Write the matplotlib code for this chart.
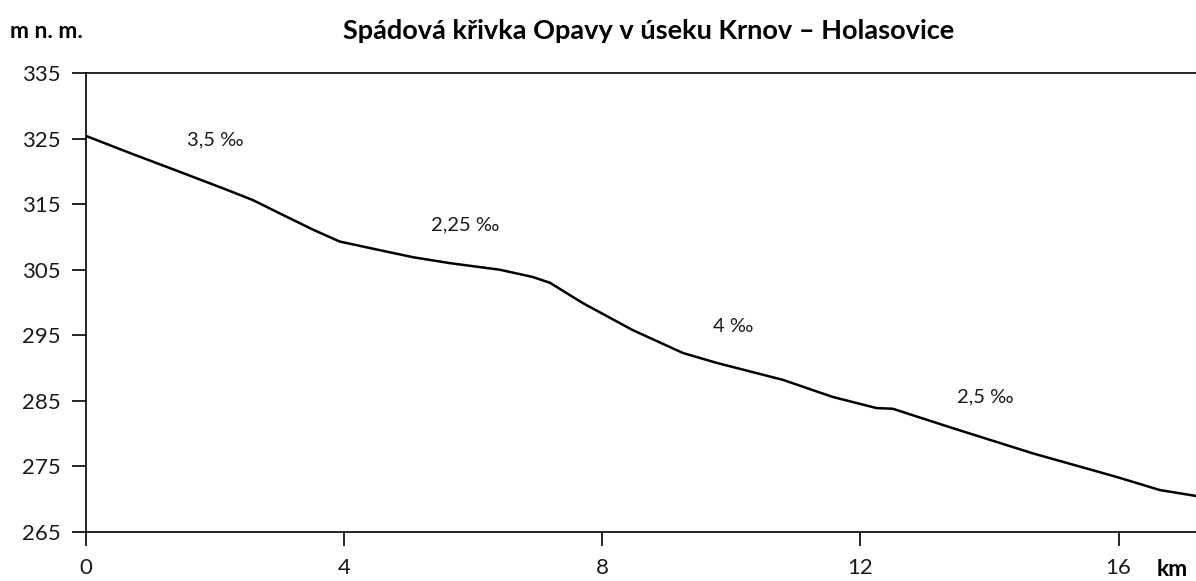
import matplotlib.pyplot as plt

plt.rcParams['font.family'] = ['Lato', 'DejaVu Sans']

# distance from Krnov (km) and elevation (m n. m.)
km = [0, 0.68, 1.46, 2.23, 2.59, 3.0, 3.52, 3.93, 4.4, 5.07, 5.64, 6.41,
      6.92, 7.19, 7.7, 8.47, 9.25, 9.77, 10.8, 11.57, 12.25, 12.5,
      13.38, 14.67, 15.97, 16.64, 17.2]
elev = [325.4, 322.8, 319.9, 317.0, 315.6, 313.6, 311.1, 309.3, 308.3, 306.9,
        306.0, 305.0, 303.9, 303.0, 299.9, 295.8, 292.3, 290.8, 288.2, 285.6,
        283.9, 283.8, 281.0, 277.0, 273.4, 271.4, 270.5]

slope_labels = ['3,5 ‰', '2,25 ‰', '4 ‰', '2,5 ‰']
slope_km = [2.0, 5.87, 10.02, 13.93]
slope_elev = [324.8, 311.8, 296.3, 285.6]

fig = plt.figure(figsize=(11.96, 5.81), dpi=100)
ax = fig.add_axes([0.0719, 0.0843, 0.9281, 0.7901])

ax.plot(km, elev, color='black', lw=1.8, solid_joinstyle='round')

for lab, x, y in zip(slope_labels, slope_km, slope_elev):
    ax.text(x, y, lab, ha='center', va='center', fontsize=14.5, color='#1a1a1a')

ax.set_xlim(0, 17.2)
ax.set_ylim(265, 335)
ax.set_xticks([0, 4, 8, 12, 16])
ax.set_yticks(range(265, 336, 10))
ax.tick_params(direction='out', length=10, width=1.2, labelsize=16, colors='black',
               labelcolor='#1a1a1a')
ax.tick_params(axis='y', pad=8)
ax.tick_params(axis='x', pad=9)
for s in ['left', 'bottom', 'top']:
    ax.spines[s].set_linewidth(1.2)
ax.spines['right'].set_visible(False)

fig.text(0.542, 0.946, 'Spádová křivka Opavy v úseku Krnov – Holasovice',
         ha='center', va='center', fontsize=19.5, fontweight='bold')
fig.text(0.008, 0.946, 'm n. m.', ha='left', va='center', fontsize=16.5, fontweight='bold')
fig.text(0.98, 0.008, 'km', ha='center', va='baseline', fontsize=16.5, fontweight='bold')

fig.savefig('out.png', dpi=100)
